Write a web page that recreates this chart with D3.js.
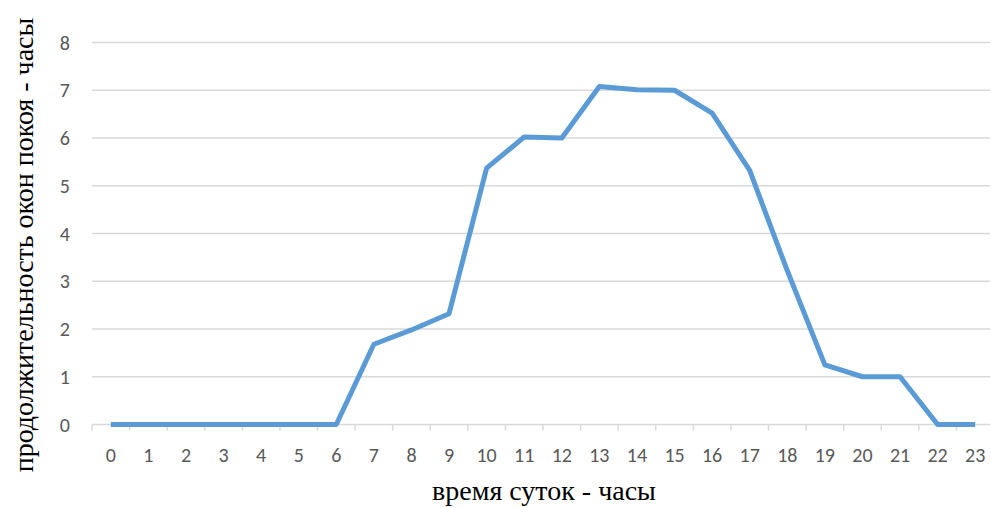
<!DOCTYPE html>
<html>
<head>
<meta charset="utf-8">
<script src="https://cdn.jsdelivr.net/npm/d3@7"></script>
<style>
  body { margin: 0; background: #fff; }
  svg { display: block; }
</style>
</head>
<body>
<svg id="chart" width="991" height="508"></svg>
<script>
// hours of the day and length of rest windows (hours)
let hours = d3.range(0, 24);
let values = [0, 0, 0, 0, 0, 0, 0, 1.68, 1.98, 2.32, 5.37, 6.02, 6.0, 7.08, 7.01, 7.0, 6.52, 5.32, 3.22, 1.25, 1.0, 1.0, 0, 0];
let yTicks = [0, 1, 2, 3, 4, 5, 6, 7, 8];
let xTitle = "время суток - часы";
let yTitle = "продолжительность окон покоя - часы";

let svg = d3.select("#chart");

let plotLeft = 92, plotRight = 994, plotTop = 42.5, plotBottom = 424.5;
let tickFont = "Carlito, Lato, 'Liberation Sans', sans-serif";
let titleFont = "'Liberation Serif', 'DejaVu Serif', serif";

let x = d3.scaleBand()
    .domain(hours)
    .range([plotLeft, plotRight]);

let y = d3.scaleLinear()
    .domain([0, 8])
    .range([plotBottom, plotTop]);

// gridlines
svg.append("g")
    .selectAll("line")
    .data(yTicks)
    .join("line")
    .attr("x1", plotLeft)
    .attr("x2", 990)
    .attr("y1", d => y(d))
    .attr("y2", d => y(d))
    .attr("stroke", "#d9d9d9")
    .attr("stroke-width", 1.5);

// x axis ticks between categories
svg.append("g")
    .selectAll("line")
    .data(hours)
    .join("line")
    .attr("x1", d => x(d))
    .attr("x2", d => x(d))
    .attr("y1", plotBottom)
    .attr("y2", plotBottom + 6)
    .attr("stroke", "#d9d9d9")
    .attr("stroke-width", 1.5);

// x tick labels
svg.append("g")
    .selectAll("text")
    .data(hours)
    .join("text")
    .attr("x", d => x(d) + x.bandwidth() / 2)
    .attr("y", 462)
    .attr("text-anchor", "middle")
    .attr("font-family", tickFont)
    .attr("font-size", 20)
    .attr("fill", "#595959")
    .text(d => d);

// y tick labels
svg.append("g")
    .selectAll("text")
    .data(yTicks)
    .join("text")
    .attr("x", 70)
    .attr("y", d => y(d) + 7)
    .attr("text-anchor", "end")
    .attr("font-family", tickFont)
    .attr("font-size", 20)
    .attr("fill", "#595959")
    .text(d => d);

// line
let line = d3.line()
    .x((d, i) => x(hours[i]) + x.bandwidth() / 2)
    .y(d => y(d));

svg.append("path")
    .datum(values)
    .attr("d", line)
    .attr("fill", "none")
    .attr("stroke", "#5b9bd5")
    .attr("stroke-width", 5)
    .attr("stroke-linejoin", "round");

// axis titles
svg.append("text")
    .attr("x", 544)
    .attr("y", 500)
    .attr("text-anchor", "middle")
    .attr("font-family", titleFont)
    .attr("font-size", 28)
    .attr("fill", "#000")
    .text(xTitle);

svg.append("text")
    .attr("transform", "translate(33,245) rotate(-90)")
    .attr("text-anchor", "middle")
    .attr("font-family", titleFont)
    .attr("font-size", 28)
    .attr("fill", "#000")
    .text(yTitle);
</script>
</body>
</html>
